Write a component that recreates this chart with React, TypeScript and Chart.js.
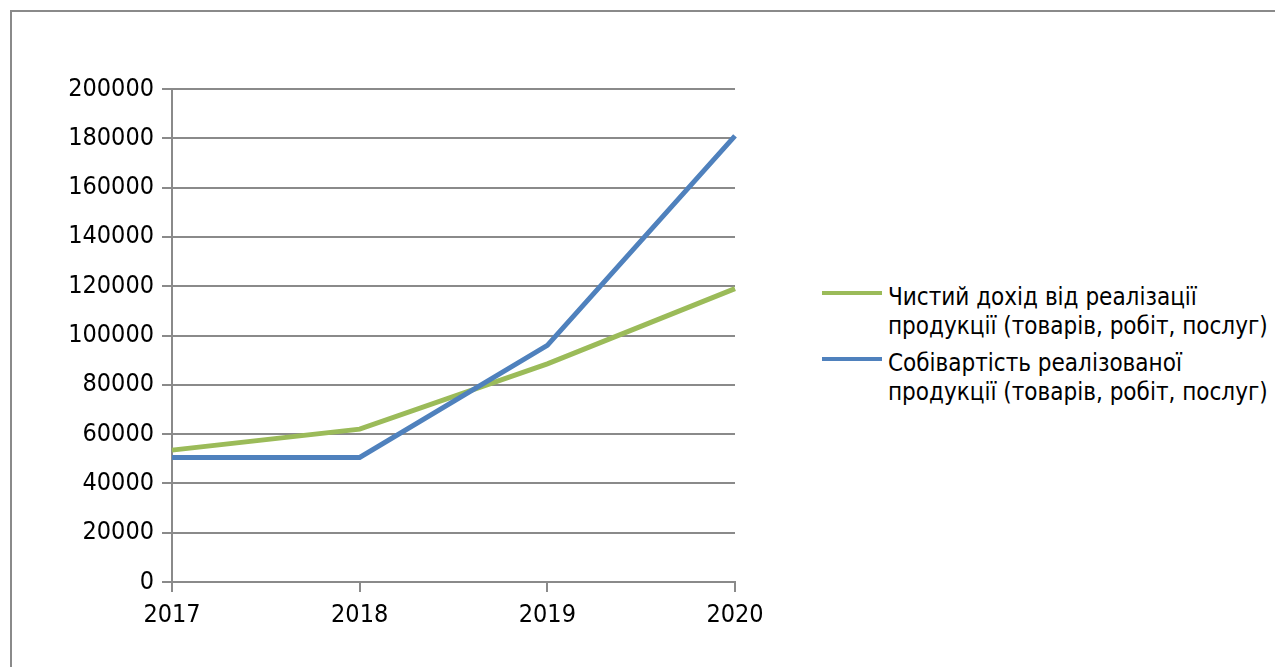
import React, { useEffect, useRef } from "react";
import { Chart, registerables } from "chart.js";

Chart.register(...registerables);

// ---- data ----
const years = ["2017", "2018", "2019", "2020"];
const revenue = [53500, 62000, 88500, 119000];
const cost = [50500, 50500, 96000, 181000];
const revenueLabel = ["Чистий дохід від реалізації", "продукції (товарів, робіт, послуг)"];
const costLabel = ["Собівартість реалізованої", "продукції (товарів, робіт, послуг)"];
const yMin = 0;
const yMax = 200000;
const yStep = 20000;

const GREEN = "#9BBB59";
const BLUE = "#4F81BD";
const GRID = "#8a8a8a";
const FONT = '"DejaVu Sans Condensed", "Liberation Sans Narrow", sans-serif';

function ChartCanvas() {
  const ref = useRef<HTMLCanvasElement | null>(null);
  useEffect(() => {
    if (!ref.current) return;
    const chart = new Chart(ref.current, {
      type: "line",
      data: {
        labels: years,
        datasets: [
          {
            label: revenueLabel.join(" "),
            data: revenue,
            borderColor: GREEN,
            backgroundColor: GREEN,
            borderWidth: 5,
            pointRadius: 0,
            tension: 0,
            order: 1,
          },
          {
            label: costLabel.join(" "),
            data: cost,
            borderColor: BLUE,
            backgroundColor: BLUE,
            borderWidth: 5,
            pointRadius: 0,
            tension: 0,
            order: 0,
          },
        ],
      },
      options: {
        animation: false,
        responsive: true,
        maintainAspectRatio: false,
        layout: { padding: { top: 89, right: 65, bottom: 0, left: 0 } },
        plugins: { legend: { display: false }, tooltip: { enabled: false } },
        scales: {
          x: {
            type: "category",
            offset: false,
            grid: {
              display: true,
              drawOnChartArea: false,
              drawTicks: true,
              tickLength: 10,
              color: GRID,
              lineWidth: 2,
            },
            border: { display: true, color: GRID, width: 2 },
            ticks: {
              color: "#000",
              font: { family: FONT, size: 25 },
              padding: 8,
              maxRotation: 0,
              autoSkip: false,
            },
            afterFit: (s: any) => {
              s.height = 85;
            },
          },
          y: {
            min: yMin,
            max: yMax,
            grid: {
              color: GRID,
              lineWidth: 2,
              drawTicks: true,
              tickLength: 10,
            },
            border: { display: true, color: GRID, width: 2 },
            ticks: {
              stepSize: yStep,
              color: "#000",
              font: { family: FONT, size: 25 },
              padding: 8,
              callback: (v: any) => String(v),
            },
            afterFit: (s: any) => {
              s.width = 172;
            },
          },
        },
      },
    });
    return () => chart.destroy();
  }, []);
  return <canvas ref={ref} />;
}

function LegendItem({ color, lines, top }: { color: string; lines: string[]; top: number }) {
  return (
    <>
      <div
        style={{
          position: "absolute",
          left: 822,
          top: top + 8,
          width: 60,
          height: 4,
          background: color,
        }}
      />
      <div
        style={{
          position: "absolute",
          left: 888,
          top: top,
          fontFamily: FONT,
          fontSize: 24,
          lineHeight: "29px",
          color: "#000",
          whiteSpace: "nowrap",
        }}
      >
        {lines.map((l, i) => (
          <div key={i}>{l}</div>
        ))}
      </div>
    </>
  );
}

export default function App() {
  return (
    <div
      style={{
        position: "absolute",
        left: 0,
        top: 0,
        width: 1275,
        height: 667,
        overflow: "hidden",
        background: "#fff",
      }}
    >
      <div
        style={{
          position: "absolute",
          left: 10,
          top: 10,
          width: 1400,
          height: 800,
          borderLeft: "2px solid #8a8a8a",
          borderTop: "2px solid #8a8a8a",
        }}
      />
      <div style={{ position: "absolute", left: 0, top: 0, width: 800, height: 667 }}>
        <ChartCanvas />
      </div>
      <LegendItem color={GREEN} lines={revenueLabel} top={283} />
      <LegendItem color={BLUE} lines={costLabel} top={349} />
    </div>
  );
}
